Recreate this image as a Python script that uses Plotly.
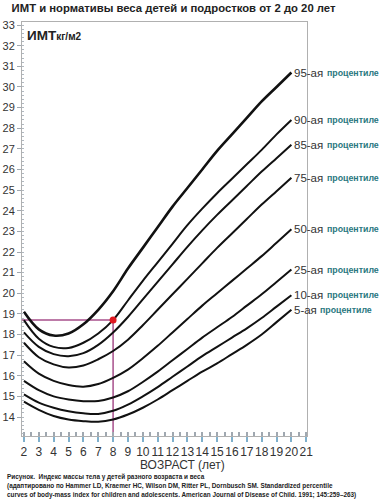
import plotly.graph_objects as go

ages = [2, 3, 4, 5, 6, 7, 8, 9, 10, 11, 12, 13, 14, 15, 16, 17, 18, 19, 20]

p95 = [19.1, 18.25, 17.95, 18.05, 18.5, 19.2, 20.1, 21.2, 22.2, 23.2, 24.2, 25.1, 26.0, 26.9, 27.7, 28.5, 29.3, 30.0, 30.7]
p90 = [18.7, 17.8, 17.4, 17.35, 17.6, 18.05, 18.7, 19.65, 20.6, 21.5, 22.4, 23.3, 24.1, 24.85, 25.55, 26.25, 26.95, 27.7, 28.4]
p85 = [18.1, 17.4, 17.05, 16.95, 17.1, 17.5, 18.1, 18.85, 19.7, 20.55, 21.4, 22.25, 23.05, 23.8, 24.5, 25.2, 25.9, 26.55, 27.2]
p75 = [17.6, 16.9, 16.55, 16.4, 16.5, 16.8, 17.2, 17.75, 18.45, 19.2, 19.95, 20.7, 21.45, 22.2, 22.9, 23.6, 24.3, 24.95, 25.6]
p50 = [16.7, 16.1, 15.75, 15.55, 15.47, 15.6, 15.9, 16.3, 16.85, 17.45, 18.1, 18.75, 19.4, 20.0, 20.6, 21.2, 21.8, 22.45, 23.1]
p25 = [15.75, 15.3, 15.0, 14.85, 14.77, 14.78, 14.95, 15.25, 15.7, 16.2, 16.75, 17.3, 17.85, 18.35, 18.85, 19.4, 19.95, 20.55, 21.15]
p10 = [15.1, 14.7, 14.45, 14.28, 14.18, 14.15, 14.3, 14.6, 15.0, 15.45, 15.95, 16.45, 16.95, 17.4, 17.85, 18.3, 18.8, 19.35, 19.9]
p5 = [14.75, 14.35, 14.05, 13.88, 13.8, 13.77, 13.88, 14.12, 14.45, 14.85, 15.3, 15.75, 16.2, 16.6, 17.05, 17.5, 18.0, 18.6, 19.2]

series = [("95", p95), ("90", p90), ("85", p85), ("75", p75),
          ("50", p50), ("25", p25), ("10", p10), ("5", p5)]

example_age = 8
example_bmi = 18.7

x_ticks = list(range(2, 22))
y_ticks = list(range(14, 34))

title_text = "ИМТ и нормативы веса детей и подростков от 2 до 20 лет"
x_title = "ВОЗРАСТ (лет)"
caption = [
    "Рисунок.  Индекс массы тела у детей разного возраста и веса",
    "(адаптировано по Hammer LD, Kraemer HC, Wilson DM, Ritter PL, Dornbusch SM. Standardized percentile",
    "curves of body-mass index for children and adolescents. American Journal of Disease of Child. 1991; 145:259–263)",
]

FONT = "Arial, Liberation Sans, sans-serif"
X0, X1 = 1.87, 21.05
Y0, Y1 = 13.08, 33.15

fig = go.Figure()

# example guide lines
fig.add_trace(go.Scatter(x=[X0, example_age, example_age], y=[example_bmi, example_bmi, Y0],
                         mode="lines", line=dict(color="#a8508c", width=1.5),
                         hoverinfo="skip", showlegend=False))

for name, vals in series:
    fig.add_trace(go.Scatter(x=ages, y=vals, mode="lines",
                             line=dict(color="#111111", width=2.6 if name == "95" else 2.0, shape="spline"),
                             showlegend=False, name=name))
    fig.add_annotation(x=ages[-1], y=vals[-1], xref="x", yref="y", xanchor="left", yanchor="middle",
                       showarrow=False, xshift=1, text=f"{name}-ая",
                       font=dict(family=FONT, size=11.5, color="#333333"))
    fig.add_annotation(x=ages[-1], y=vals[-1], xref="x", yref="y", xanchor="left", yanchor="middle",
                       showarrow=False, xshift=(34 if len(name) == 2 else 27), text="<b>процентиле</b>",
                       font=dict(family=FONT, size=8.8, color="#2a7880"))

fig.add_trace(go.Scatter(x=[example_age], y=[example_bmi], mode="markers",
                         marker=dict(color="#e01820", size=7), showlegend=False))

fig.add_annotation(x=0.01, y=0.99, xref="paper", yref="paper", xanchor="left", yanchor="top",
                   showarrow=False,
                   text="<b>ИМТ</b><span style='font-size:10px'><b>кг/м2</b></span>",
                   font=dict(family=FONT, size=13.5, color="#222222"))

fig.update_layout(
    width=387, height=500,
    margin=dict(l=22, r=80, t=22, b=64, autoexpand=False),
    paper_bgcolor="white", plot_bgcolor="white",
    font=dict(family=FONT, color="#333333"),
    title=dict(text=f"<b>{title_text}</b>", x=0.03, xanchor="left", y=0.984, yanchor="middle",
               font=dict(size=11.3, color="#222222")),
    xaxis=dict(range=[X0, X1], tickvals=x_ticks, ticktext=[str(v) for v in x_ticks],
               showgrid=False, zeroline=False, showline=True, linecolor="#b0b0b0", mirror=True,
               ticks="outside", ticklen=5, tickcolor="#7fb0cc", tickwidth=1.5, tickangle=0,
               automargin=False,
               tickfont=dict(size=12, color="#333333"),
               minor=dict(dtick=0.5, tick0=0, ticks="inside", ticklen=4, tickcolor="#a0a8b0", showgrid=False)),
    yaxis=dict(range=[Y0, Y1], tickvals=y_ticks, ticktext=[str(v) for v in y_ticks],
               showgrid=False, zeroline=False, showline=True, linecolor="#b0b0b0", mirror=True,
               ticks="outside", ticklen=4, tickcolor="#a0a8b0", automargin=False,
               tickfont=dict(size=11, color="#333333"),
               minor=dict(dtick=0.2, tick0=0, ticks="inside", ticklen=2, tickcolor="#b0b8c0", showgrid=False)),
)

fig.add_annotation(x=(182 - 22) / 285, y=-(465 - 436) / 414, xref="paper", yref="paper", showarrow=False,
                   xanchor="center", yanchor="middle", text=x_title,
                   font=dict(family=FONT, size=12, color="#333333"))

for i, line in enumerate(caption):
    fig.add_annotation(x=(5 - 22) / 285, y=-(477 + 9 * i - 436) / 414, xref="paper", yref="paper",
                       showarrow=False, xanchor="left", yanchor="middle",
                       text=f"<b>{line}</b>", font=dict(family=FONT, size=6.4, color="#222222"))

fig.write_html("out.html", config={"displayModeBar": False},
               post_script="document.body.style.margin='0';document.body.style.overflow='hidden';")
